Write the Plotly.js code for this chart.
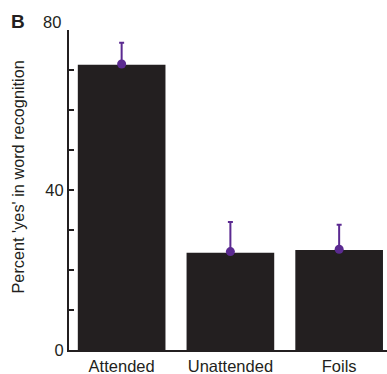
<!DOCTYPE html>
<html>
<head>
<meta charset="utf-8">
<script src="https://cdn.plot.ly/plotly-3.0.1.min.js"></script>
<style>html,body{margin:0;padding:0;background:#fff;}#chart{width:387px;height:374px;}</style>
</head>
<body>
<div id="chart"></div>
<script>
var categories = ['Attended', 'Unattended', 'Foils'];
var barValues = [71.3, 24.3, 25.0];
var pointValues = [71.5, 24.6, 25.2];
var errorUp = [5.3, 7.4, 6.1];
var errorDown = [0, 0, 0];
var yTickVals = [0, 10, 20, 30, 40, 50, 60, 70, 80];
var yTickText = ['0', '', '', '', '40', '', '', '', ''];
var yTopLabel = '80';
var yTopValue = 80;
var yTitle = "Percent 'yes' in word recognition";
var panelLabel = 'B';

var ink = '#231f20';
var purple = '#5b2a91';
var fontFam = 'Liberation Sans, Arial, sans-serif';

var traces = [
  {
    type: 'bar', x: categories, y: barValues,
    marker: {color: ink, line: {width: 0}},
    hoverinfo: 'skip', showlegend: false
  },
  {
    type: 'scatter', mode: 'markers', x: categories, y: pointValues,
    marker: {color: purple, size: 9},
    error_y: {type: 'data', symmetric: false, array: errorUp, arrayminus: errorDown,
              color: purple, thickness: 2, width: 2.5},
    showlegend: false
  }
];

var layout = {
  width: 387, height: 374,
  margin: {l: 69, r: 0, t: 30, b: 24},
  paper_bgcolor: '#fff', plot_bgcolor: '#fff',
  font: {family: fontFam, color: ink, size: 16.5},
  bargap: 0.194,
  xaxis: {
    type: 'category', range: [-0.484, 2.44],
    showline: true, linecolor: ink, linewidth: 2,
    ticks: '', showgrid: false, zeroline: false,
    tickfont: {size: 16.5, color: ink}
  },
  yaxis: {
    range: [0, 80], showline: true, linecolor: ink, linewidth: 2,
    ticks: 'inside', ticklen: 5, tickwidth: 1.5, tickcolor: ink,
    tickvals: yTickVals, ticktext: yTickText,
    showgrid: false, zeroline: false,
    tickfont: {size: 16.5, color: ink}
  },
  annotations: [
    {text: '<b>' + panelLabel + '</b>', xref: 'paper', yref: 'paper', x: 0, y: 1, xanchor: 'center', yanchor: 'middle',
     xshift: -51, yshift: 9, showarrow: false, font: {size: 19, color: ink, family: fontFam}},
    {text: yTopLabel, xref: 'paper', yref: 'y', x: 0, y: yTopValue, xanchor: 'right', yanchor: 'middle',
     xshift: -6, yshift: 8, showarrow: false, font: {size: 16.5, color: ink, family: fontFam}},
    {text: yTitle, textangle: -90, xref: 'paper', yref: 'paper', x: 0, y: 0.539, xanchor: 'center', yanchor: 'middle',
     xshift: -51, showarrow: false, font: {size: 16.3, color: ink, family: fontFam}}
  ]
};

Plotly.newPlot('chart', traces, layout, {displayModeBar: false, staticPlot: true});
</script>
</body>
</html>
